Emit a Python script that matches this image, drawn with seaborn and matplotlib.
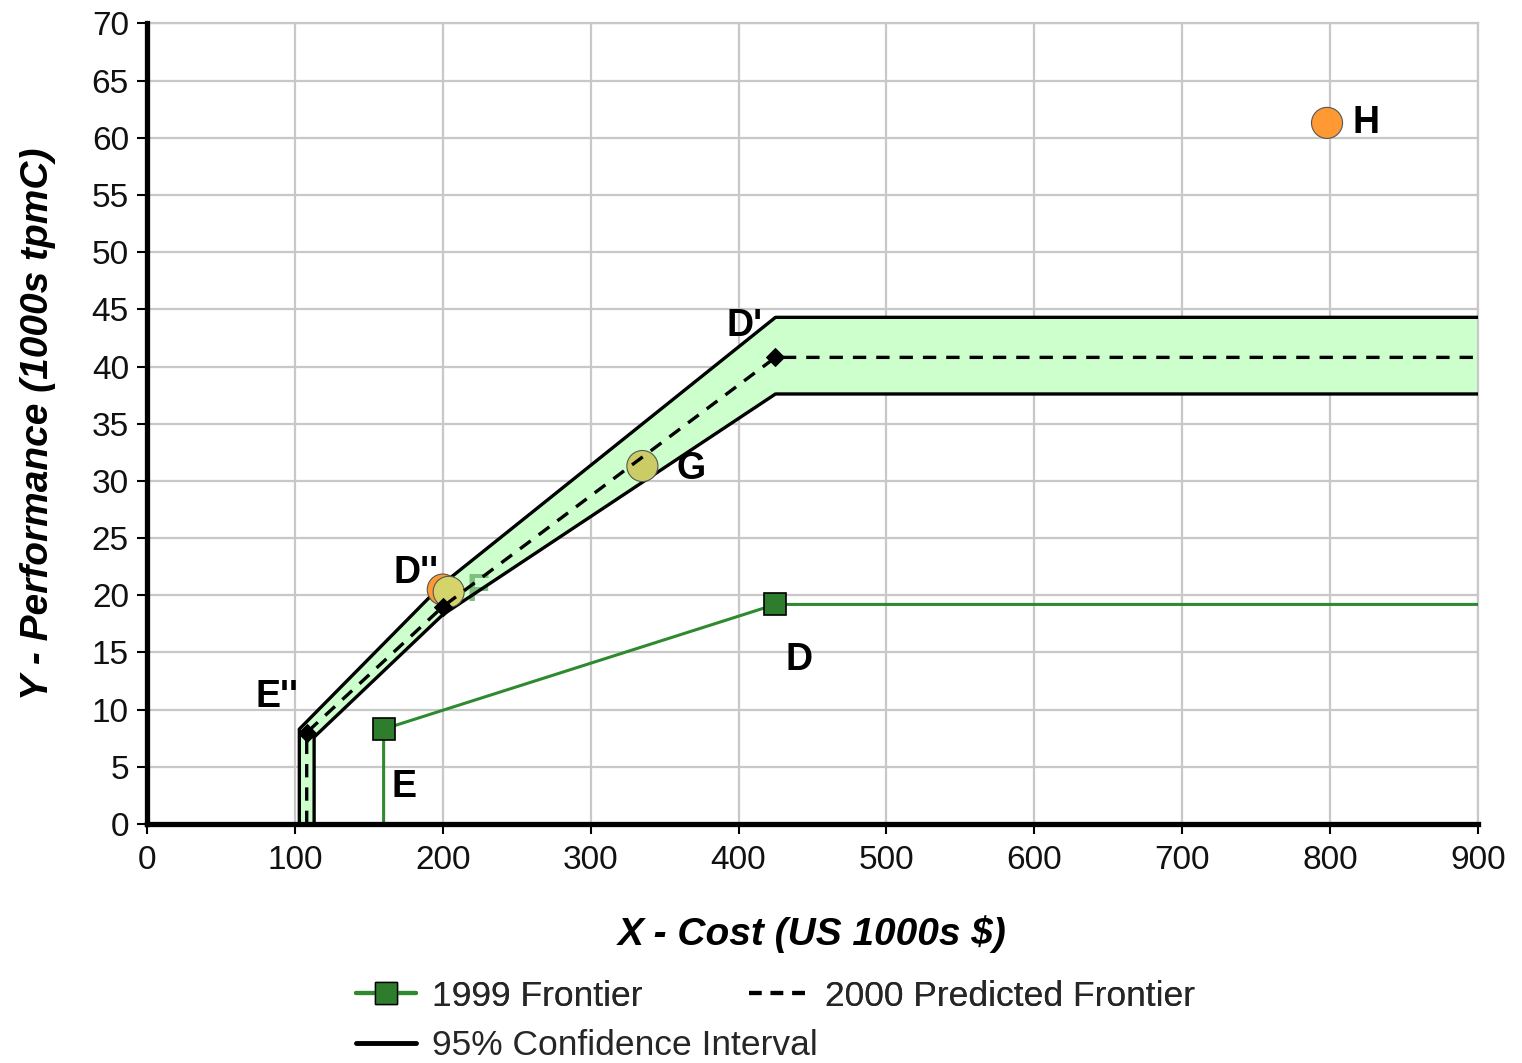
import matplotlib.pyplot as plt
import matplotlib.lines as mlines
import pandas as pd
import seaborn as sns

# 1999 frontier (x cost, y performance)
f99_x = [160, 160, 425, 900]
f99_y = [0, 8.3, 19.2, 19.2]

# 2000 predicted frontier
f00_x = [108, 108, 200, 425, 900]
f00_y = [0, 8.0, 19.0, 40.8, 40.8]

# 95% confidence interval bounds
ci_up_x = [103, 103, 200, 425, 900]
ci_up_y = [0, 8.3, 21.0, 44.3, 44.3]
ci_lo_x = [113, 113, 200, 425, 900]
ci_lo_y = [0, 7.6, 18.3, 37.6, 37.6]

# individual systems
pt_names = ["D''", "F", "G", "H"]
pt_x = [200, 204, 335, 798]
pt_y = [20.5, 20.3, 31.3, 61.3]
pt_colors = ["#ff9933", "#d4d46a", "#cccc66", "#ff9933"]

sns.set_style("white")
plt.rcParams['font.family'] = ['Liberation Sans', 'DejaVu Sans']

fig, ax = plt.subplots(figsize=(15.22, 10.63), dpi=100)
fig.subplots_adjust(left=0.0966, right=0.971, bottom=0.2248, top=0.978)

green = "#2f8a2f"

# confidence band fill
poly_x = ci_up_x + ci_lo_x[::-1]
poly_y = ci_up_y + ci_lo_y[::-1]
ax.fill(poly_x, poly_y, color="#ccffcc", zorder=2, lw=0)

df99 = pd.DataFrame({"x": f99_x, "y": f99_y})
df00 = pd.DataFrame({"x": f00_x, "y": f00_y})
dfu = pd.DataFrame({"x": ci_up_x, "y": ci_up_y})
dfl = pd.DataFrame({"x": ci_lo_x, "y": ci_lo_y})

sns.lineplot(data=dfu, x="x", y="y", sort=False, estimator=None, color="black", lw=2.4, ax=ax, zorder=3)
sns.lineplot(data=dfl, x="x", y="y", sort=False, estimator=None, color="black", lw=2.4, ax=ax, zorder=3)
sns.lineplot(data=df99, x="x", y="y", sort=False, estimator=None, color=green, lw=2.2, ax=ax, zorder=4,
             marker="s", markevery=[1, 2], markersize=16, markerfacecolor="#2d7d2d",
             markeredgecolor="black", markeredgewidth=1.2)

# label text for F sits inside the band, faded
ax.text(216, 20.4, "F", fontsize=27, fontweight="bold", color="#7fbf7f", va="center", zorder=2.5)

pts = pd.DataFrame({"x": pt_x, "y": pt_y, "name": pt_names})
sns.scatterplot(data=pts, x="x", y="y", hue="name", palette=dict(zip(pt_names, pt_colors)),
                s=500, edgecolor="#555555", linewidth=0.8, legend=False, ax=ax, zorder=5)

sns.lineplot(data=df00, x="x", y="y", sort=False, estimator=None, color="black", lw=2.4, ax=ax, zorder=6,
             linestyle=(0, (4, 3)), marker="D", markevery=[1, 2, 3], markersize=9,
             markerfacecolor="black", markeredgecolor="black")

# point labels
lab_kw = dict(fontsize=27, fontweight="bold", color="black", zorder=7)
ax.text(815, 61.3, "H", va="center", **lab_kw)
ax.text(358, 31.0, "G", va="center", **lab_kw)
ax.text(404, 42.0, "D'", ha="center", va="bottom", **lab_kw)
ax.text(182, 20.4, "D''", ha="center", va="bottom", **lab_kw)
ax.text(88, 9.5, "E''", ha="center", va="bottom", **lab_kw)
ax.text(174, 3.2, "E", ha="center", va="center", **lab_kw)
ax.text(441, 14.3, "D", ha="center", va="center", **lab_kw)

ax.set_xlim(0, 900)
ax.set_ylim(0, 70)
ax.set_xticks(range(0, 901, 100))
ax.set_yticks(range(0, 71, 5))
ax.grid(True, color="#c8c8c8", lw=1.6, zorder=0)
ax.set_axisbelow(True)

for s in ["top", "right"]:
    ax.spines[s].set_color("#c8c8c8")
    ax.spines[s].set_linewidth(1.6)
for s in ["left", "bottom"]:
    ax.spines[s].set_color("black")
    ax.spines[s].set_linewidth(3.8)
    ax.spines[s].set_zorder(8)

ax.tick_params(axis="both", which="major", direction="out", length=7, width=1.5,
               color="black", labelsize=24, labelcolor="#111111", left=True, bottom=True)
ax.tick_params(axis="x", pad=8)
ax.tick_params(axis="y", pad=6)

ax.set_xlabel("X - Cost (US 1000s $)", fontsize=28, fontweight="bold", fontstyle="italic",
              labelpad=28, color="black")
ax.set_ylabel("Y - Performance (1000s tpmC)", fontsize=28, fontweight="bold", fontstyle="italic",
              labelpad=26, color="black")

# legend
h99 = mlines.Line2D([], [], color=green, lw=3, marker="s", markersize=16,
                    markerfacecolor="#2d7d2d", markeredgecolor="black")
h00 = mlines.Line2D([], [], color="black", lw=3, linestyle=(0, (3, 2.2)))
hci = mlines.Line2D([], [], color="black", lw=3.5)

leg1 = fig.legend([h99, h00], ["1999 Frontier", "2000 Predicted Frontier"], ncol=2, frameon=False,
                  loc="center left", bbox_to_anchor=(0.213, 0.063), fontsize=25.5,
                  handlelength=1.7, handletextpad=0.45, columnspacing=3.0)
fig.add_artist(leg1)
fig.legend([hci], ["95% Confidence Interval"], frameon=False, loc="center left",
           bbox_to_anchor=(0.213, 0.016), fontsize=25.5, handlelength=1.7, handletextpad=0.45)

fig.savefig("out.png", dpi=100)
